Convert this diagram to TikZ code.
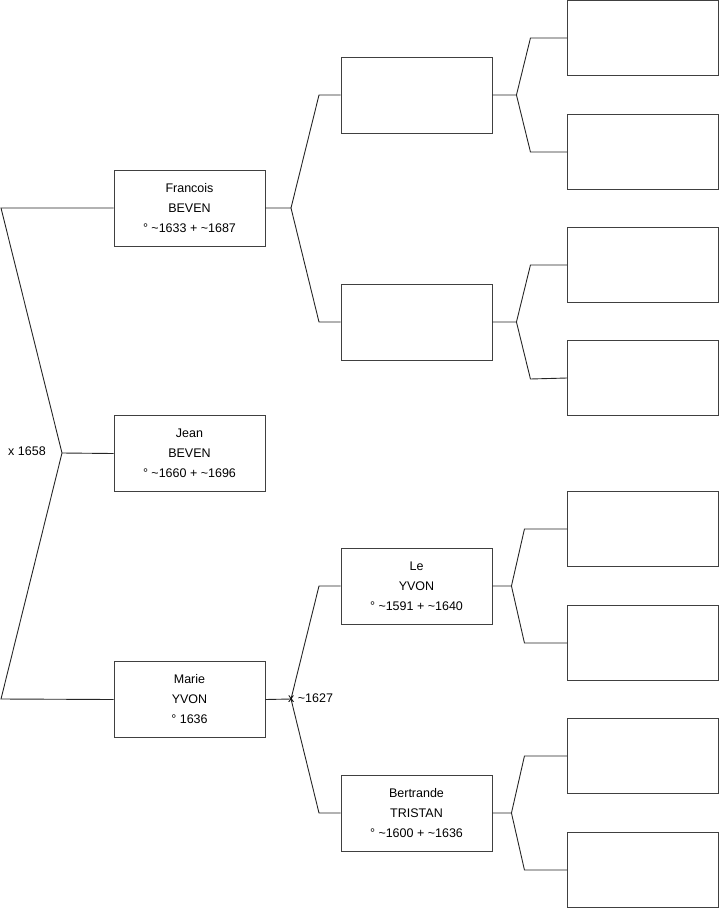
\documentclass[tikz,border=0pt]{standalone}
\usepackage{fontspec}
\setmainfont{Liberation Sans}
\usepackage{tikz}

\begin{document}
\begin{tikzpicture}[
    x=1pt, y=-1pt,
    font=\fontsize{12.5}{20}\selectfont,
    person/.style={draw=black!75, line width=0.9pt, align=center, minimum width=151pt, minimum height=76pt, inner sep=0pt},
    blank/.style={person, minimum height=75pt},
    link/.style={draw=black!85, line width=0.9pt},
    union/.style={inner sep=1pt}
  ]
    \useasboundingbox (0,0) rectangle (719,908);

    % generation 1
    \node[person] (francois) at (189.5,208) {Francois\\BEVEN\\° \textasciitilde1633 + \textasciitilde1687};
    \node[person] (jean) at (189.5,453.5) {Jean\\BEVEN\\° \textasciitilde1660 + \textasciitilde1696};
    \node[person] (marie) at (189.5,699.5) {Marie\\YVON\\° 1636};

    % generation 2
    \node[person] (ff) at (416.5,95) {};
    \node[person] (fm) at (416.5,322) {};
    \node[person] (mf) at (416.5,586) {Le\\YVON\\° \textasciitilde1591 + \textasciitilde1640};
    \node[person] (mm) at (416.5,813) {Bertrande\\TRISTAN\\° \textasciitilde1600 + \textasciitilde1636};

    % generation 3
    \node[blank] (fff) at (643,38) {};
    \node[blank] (ffm) at (643,152) {};
    \node[blank] (fmf) at (643,265) {};
    \node[blank] (fmm) at (643,378) {};
    \node[blank] (mff) at (643,529) {};
    \node[blank] (mfm) at (643,643) {};
    \node[blank] (mmf) at (643,756) {};
    \node[blank] (mmm) at (643,870) {};

    \coordinate (jj) at (62,453);
    \coordinate (jtop) at (1,208);
    \coordinate (jbot) at (1,699);
    \draw[link] (francois.west) -- (jtop) -- (jj) -- (jbot) -- (marie.west);
    \draw[link] (jj) -- (jean.west);
    \node[union] (wed1) at (27,451) {x 1658};

    \coordinate (fj) at (291,208);
    \draw[link] (francois.east) -- (fj) -- (319,95) -- (ff.west);
    \draw[link] (fj) -- (319,322) -- (fm.west);

    \coordinate (mj) at (291,699);
    \draw[link] (marie.east) -- (mj) -- (319,586) -- (mf.west);
    \draw[link] (mj) -- (319,813) -- (mm.west);
    \node[union, anchor=west] (wed2) at (287,698) {x \textasciitilde1627};

    \foreach \p/\d/\k in {ff/24/14, fm/24/14, mf/19/13, mm/19/13} {
      \draw[link] (\p.east) -- ++(\d,0) coordinate (\p j) -- ++(\k,-57) -- (\p f.west);
      \draw[link] (\p j) -- ++(\k,57) -- (\p m.west);
    }
\end{tikzpicture}
\end{document}
